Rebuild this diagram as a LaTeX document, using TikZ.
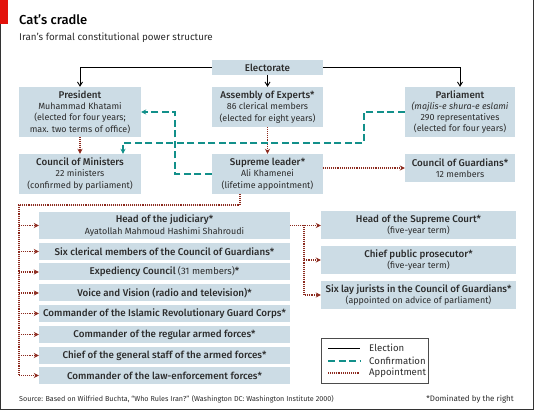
\documentclass[tikz,border=0pt]{standalone}
\usepackage{fontspec}
\setmainfont{Fira Sans}[BoldFont={Fira Sans Medium}]
\usetikzlibrary{arrows.meta,calc}
\definecolor{boxfill}{HTML}{CCDCE5}
\definecolor{teal2}{HTML}{12908A}
\definecolor{apred}{HTML}{8C2A1E}
\definecolor{txt}{HTML}{2B2B2B}
\definecolor{ecored}{HTML}{E3120B}
\newcommand{\hd}[1]{{\fontsize{9.8}{11.3}\selectfont\bfseries #1}}
\tikzset{
  box/.style={fill=boxfill, draw=none, inner sep=0pt, align=center, text=txt,
    font=\fontsize{8.9}{11.3}\selectfont},
  lbox/.style={box, minimum width=251pt, minimum height=17pt},
  lboxb/.style={lbox, font=\fontsize{9.8}{11.3}\selectfont\bfseries},
  rbox/.style={box, minimum width=195pt, minimum height=28pt},
  elec/.style={draw=black, line width=0.9pt, -{Straight Barb[length=4pt,width=5pt]}},
  conf/.style={draw=teal2, line width=1.3pt, dash pattern=on 7pt off 3.5pt, -{Stealth[length=5pt,width=5pt]}},
  appt/.style={draw=apred, line width=1.1pt, dash pattern=on 1pt off 0.9pt, -{Stealth[length=5pt,width=5pt]}},
  apptn/.style={draw=apred, line width=1.1pt, dash pattern=on 1pt off 0.9pt},
  legtxt/.style={anchor=west, inner sep=0pt, text=txt, font=\fontsize{9.6}{10}\selectfont},
}
\begin{document}
\begin{tikzpicture}[x=1pt,y=-1pt]
\useasboundingbox (0,0) rectangle (535,411);
% frame
\fill[ecored] (0,0) rectangle (8,24);
\draw[line width=0.9pt, draw=black!80] (0.5,24) -- (0.5,409.5) -- (533.5,409.5) -- (533.5,0);
% title
\node[anchor=base west, inner sep=0pt, font=\fontsize{13}{15}\selectfont\bfseries] (title) at (19,24.5) {Cat’s cradle};
\node[anchor=base west, inner sep=0pt, text=txt, font=\fontsize{9.8}{10}\selectfont] (sub) at (19,40.5) {Iran’s formal constitutional power structure};
% top boxes
\node[box, minimum width=111pt, minimum height=15pt] (elect) at (267.5,67.5) {\hd{Electorate}};
\node[box, minimum width=122pt, minimum height=50pt] (pres) at (80,112) {\hd{President}\\Muhammad Khatami\\(elected for four years;\\max. two terms of office)};
\node[box, minimum width=111pt, minimum height=40pt] (assem) at (267.5,107) {\hd{Assembly of Experts*}\\86 clerical members\\(elected for eight years)};
\node[box, minimum width=110pt, minimum height=50pt] (parl) at (460,112) {\hd{Parliament}\\\textit{(majlis-e shura-e eslami}\\290 representatives\\(elected for four years)};
\node[box, minimum width=122pt, minimum height=40pt] (com) at (80,174) {\hd{Council of Ministers}\\22 ministers\\(confirmed by parliament)};
\node[box, minimum width=111pt, minimum height=40pt] (sup) at (267.5,174) {\hd{Supreme leader*}\\Ali Khamenei\\(lifetime appointment)};
\node[box, minimum width=110pt, minimum height=28pt] (cog) at (460,168) {\hd{Council of Guardians*}\\12 members};
% list boxes
\node[lbox, minimum height=27pt] (jud) at (164.5,225.5) {\hd{Head of the judiciary*}\\Ayatollah Mahmoud Hashimi Shahroudi};
\node[lboxb] (six) at (164.5,251.5) {Six clerical members of the Council of Guardians*};
\node[lbox] (exp) at (164.5,272) {{\fontsize{9.8}{11.3}\selectfont\bfseries Expediency Council} {\fontsize{9.4}{11.3}\selectfont(31 members)}{\fontsize{9.8}{11.3}\selectfont\bfseries*}};
\node[lboxb] (voice) at (164.5,293) {Voice and Vision (radio and television)*};
\node[lboxb] (irgc) at (164.5,313.5) {Commander of the Islamic Revolutionary Guard Corps*};
\node[lboxb] (reg) at (164.5,334.5) {Commander of the regular armed forces*};
\node[lboxb] (chief) at (164.5,355.5) {Chief of the general staff of the armed forces*};
\node[lboxb] (law) at (164.5,375.5) {Commander of the law-enforcement forces*};
% right boxes
\node[rbox] (court) at (418.5,225) {\hd{Head of the Supreme Court*}\\(five-year term)};
\node[rbox] (pros) at (418.5,260) {\hd{Chief public prosecutor*}\\(five-year term)};
\node[rbox] (jur) at (418.5,295) {\hd{Six lay jurists in the Council of Guardians*}\\(appointed on advice of parliament)};
% election
\draw[elec] (elect.west) -| (pres.north);
\draw[elec] (elect.east) -| (parl.north);
\draw[elec] (elect) -- (assem);
% appointment
\draw[appt] (pres) -- (com);
\draw[appt] (assem) -- (sup);
\draw[appt] (sup.east |- cog.west) -- (cog.west);
\coordinate (sb) at ($(sup.south)+(-27.5,0)$);
\coordinate (a1) at (19,205);
\draw[appt] (sb) |- (a1) |- (law.west);
\foreach \n in {jud,six,exp,voice,irgc,reg,chief}{
  \draw[appt] (a1 |- \n.west) -- (\n.west);
}
\draw[appt] (jud.east) -- (jud.east -| court.west);
\coordinate (b1) at (304,225.5);
\draw[appt] (b1) |- (pros.west);
\draw[appt] (b1) |- (jur.west);
% confirmation
\coordinate (c1) at (364,143);
\draw[conf] (parl.west) -| (c1) -| ($(com.north)+(43,0)$);
\coordinate (c2) at (175,112);
\draw[conf] (sup.west) -| (c2) -- (pres.east);
% legend
\node[draw=black!70, line width=0.6pt, minimum width=107pt, minimum height=45pt, inner sep=0pt] (leg) at (374.5,360.5) {};
\coordinate (l1) at (328,348);
\coordinate (l2) at (328,361);
\coordinate (l3) at (328,373);
\draw[draw=black, line width=0.9pt] (l1) -- ++(32,0);
\draw[draw=teal2, line width=1.3pt, dash pattern=on 7pt off 3.5pt] (l2) -- ++(32,0);
\draw[apptn] (l3) -- ++(32,0);
\node[legtxt] (t1) at (369,348) {Election};
\node[legtxt] (t2) at (369,361) {Confirmation};
\node[legtxt] (t3) at (369,373) {Appointment};
% footer
\node[anchor=west, inner sep=0pt, text=txt, font=\fontsize{7.2}{9}\selectfont] (src) at (19,399) {Source: Based on Wilfried Buchta, “Who Rules Iran?” (Washington DC: Washington Institute 2000)};
\node[anchor=east, inner sep=0pt, text=txt, font=\fontsize{8}{9}\selectfont] (dom) at (514,399) {*Dominated by the right};
\end{tikzpicture}
\end{document}
